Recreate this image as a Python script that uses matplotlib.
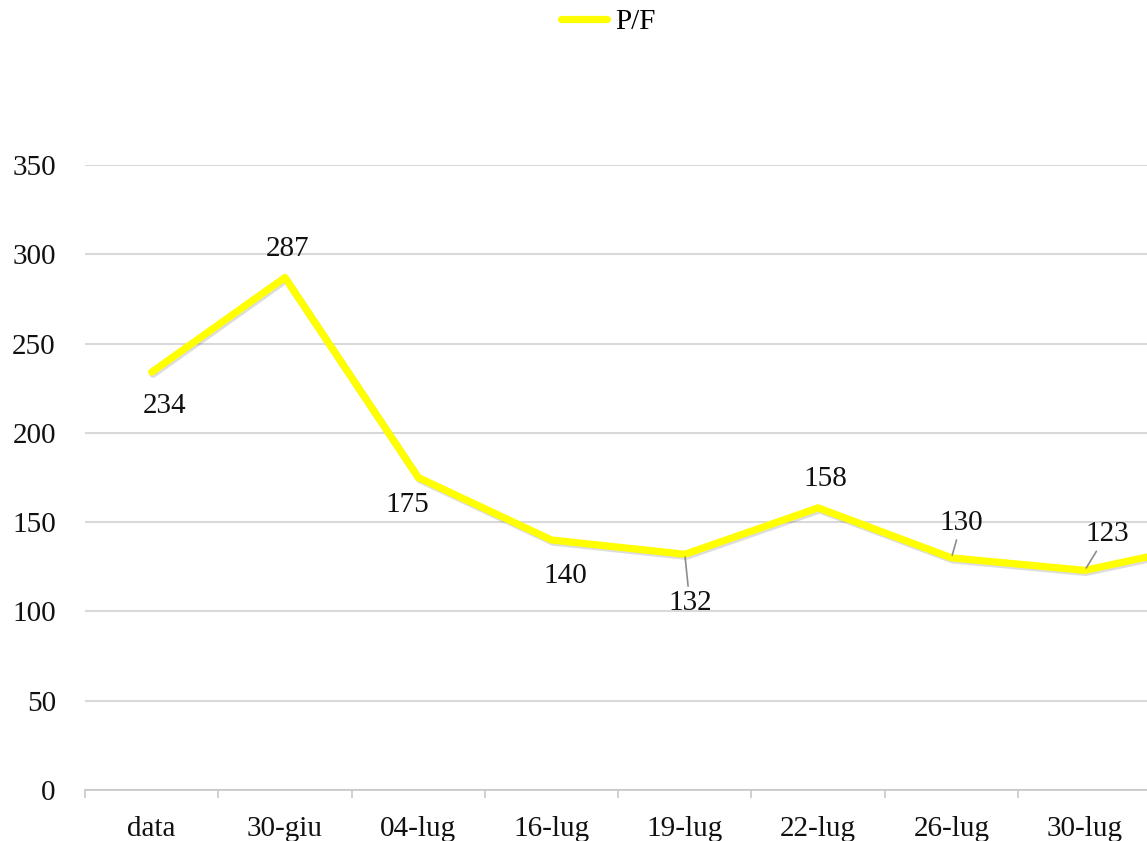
import matplotlib.pyplot as plt
import matplotlib.patheffects as pe
import numpy as np

plt.rcParams['font.family'] = ['Liberation Serif', 'DejaVu Serif']

# the series runs one step past the last labelled date
dates = ["data", "30-giu", "04-lug", "16-lug", "19-lug", "22-lug", "26-lug", "30-lug"]
pf = [234, 287, 175, 140, 132, 158, 130, 123, 139]
# label offsets in pixels and whether a leader line is drawn
label_dx = [13, 3, -11, 14, 5, 7, 10, 22]
label_dy = [-34, 28, -27, -36, -49, 29, 35, 36]
leader = [False, False, False, False, True, False, True, True]

fig = plt.figure(figsize=(11.47, 8.41), dpi=100)
W, H = 1147, 841
left, bottom, top = 85, 790, 165
band = 133.3
ax = fig.add_axes([left / W, 1 - bottom / H, len(pf) * band / W, (bottom - top) / H])

x = np.arange(len(pf))
ax.plot(x, pf, color='#FFFF00', lw=5.2, solid_capstyle='round',
        path_effects=[pe.SimpleLineShadow(offset=(1, -1.5), alpha=0.2, shadow_color='#555555'),
                      pe.Normal()], zorder=3)
# plain handle for the legend
ax.plot([], [], color='#FFFF00', lw=5.2, solid_capstyle='round', label='P/F')

for i in range(len(dates)):
    v = pf[i]
    kw = {}
    if leader[i]:
        kw['arrowprops'] = dict(arrowstyle='-', color='#8c8c8c', lw=1.2, shrinkA=1, shrinkB=2)
    ax.annotate(str(v), (x[i], v), xytext=(label_dx[i], label_dy[i]), textcoords='offset pixels',
                ha='center', va='center', fontsize=21, color='#111111', zorder=4, **kw)

ax.set_xlim(-0.5, len(pf) - 0.5)
ax.set_ylim(0, 350)
ax.set_yticks(range(0, 351, 50))
ax.set_xticks(x[:len(dates)])
ax.set_xticklabels(dates)
ax.set_xticks(np.arange(-0.5, len(pf), 1), minor=True)
ax.tick_params(axis='x', which='major', length=0, pad=19, labelsize=21)
ax.tick_params(axis='x', which='minor', length=6, width=1.2, color='#c8c8c8')
ax.tick_params(axis='y', length=0, pad=21, labelsize=21)
for t in ax.get_xticklabels() + ax.get_yticklabels():
    t.set_color('#111111')

ax.grid(axis='y', color='#d9d9d9', lw=1.5)
ax.set_axisbelow(True)
for s in ['left', 'right', 'top']:
    ax.spines[s].set_visible(False)
ax.spines['bottom'].set_color('#c8c8c8')
ax.spines['bottom'].set_linewidth(1.2)

fig.legend(loc='center', bbox_to_anchor=(608 / W, 1 - 22 / H), frameon=False,
           fontsize=21, handlelength=1.6, handletextpad=0.25)

fig.savefig('out.png', dpi=100)
